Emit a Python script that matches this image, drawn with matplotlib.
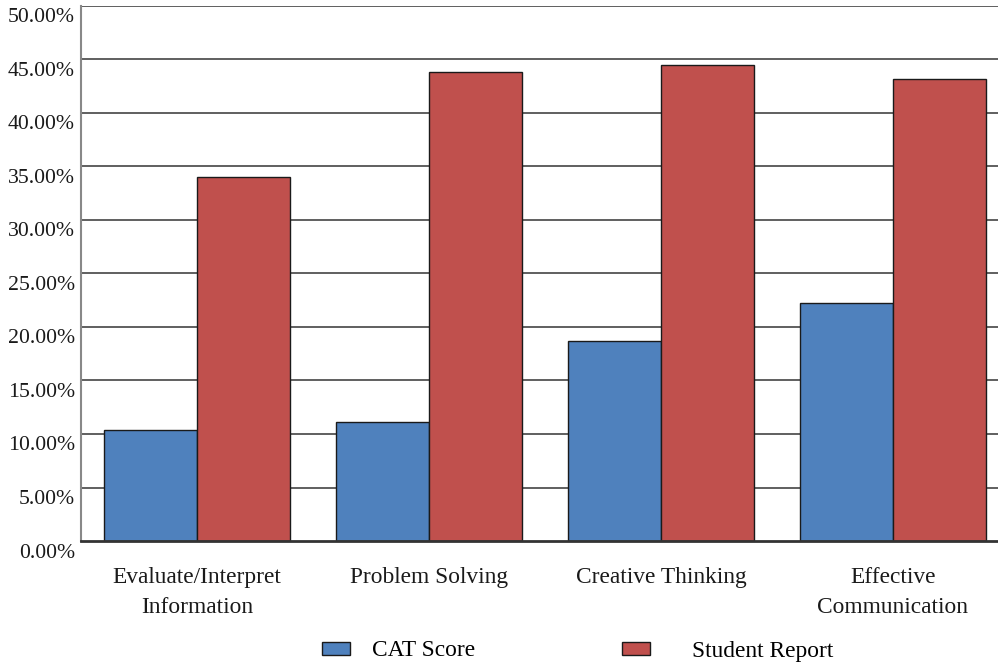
import matplotlib
matplotlib.use("Agg")
import matplotlib.pyplot as plt
import matplotlib.transforms as mtransforms
import matplotlib.patches as mpatches
import numpy as np

categories = ["Evaluate/Interpret\nInformation", "Problem Solving",
              "Creative Thinking", "Effective\nCommunication"]
cat_score = [10.4, 11.1, 18.7, 22.2]
student_report = [34.0, 43.8, 44.5, 43.2]
series_names = ["CAT Score", "Student Report"]
series_colors = ["#4F81BD", "#C0504D"]
y_ticks = [0, 5, 10, 15, 20, 25, 30, 35, 40, 45, 50]

plt.rcParams['font.family'] = ['Liberation Serif', 'DejaVu Serif']

fig = plt.figure(figsize=(9.98, 6.66), dpi=100)
ax = fig.add_axes([81 / 998, 125 / 666, 928 / 998, 535 / 666])

x = np.arange(len(categories))
w = 0.40
ax.bar(x - w / 2, cat_score, w, color=series_colors[0], edgecolor="#1a1a1a",
       linewidth=1.0, zorder=3)
ax.bar(x + w / 2, student_report, w, color=series_colors[1], edgecolor="#1a1a1a",
       linewidth=1.0, zorder=3)

ax.set_xlim(-0.5, 3.5)
ax.set_ylim(0, 50)
ax.set_yticks(y_ticks)
ax.set_yticklabels([f"{v:.2f}%" for v in y_ticks], fontsize=15.7, color="#1a1a1a")
ax.set_xticks(x)
ax.set_xticklabels(categories, fontsize=16.8, color="#1a1a1a", linespacing=1.52)
ax.tick_params(axis="both", length=0)
ax.tick_params(axis="y", pad=4.5)
ax.tick_params(axis="x", pad=19)

# y labels sit slightly below their gridlines
shift = mtransforms.ScaledTranslation(0, -9.5 / 100, fig.dpi_scale_trans)
for lbl in ax.get_yticklabels():
    lbl.set_transform(lbl.get_transform() + shift)

for v in y_ticks[1:]:
    ax.axhline(v, color="#444444", linewidth=1.2, zorder=1)

for s in ["top", "right"]:
    ax.spines[s].set_visible(False)
ax.spines["left"].set_color("#888888")
ax.spines["left"].set_linewidth(1.5)
ax.spines["bottom"].set_color("#333333")
ax.spines["bottom"].set_linewidth(2)
ax.spines["bottom"].set_zorder(4)

# legend entries placed individually
legend_x = [322 / 998, 622 / 998]
text_pads = [0.95, 1.8]
for name, color, lx, tp in zip(series_names, series_colors, legend_x, text_pads):
    h = mpatches.Patch(facecolor=color, edgecolor="#1a1a1a", linewidth=1.0)
    fig.legend([h], [name], loc="center left", bbox_to_anchor=(lx, 1 - 651 / 666),
               frameon=False, fontsize=16.8, handlelength=1.2, handleheight=0.5,
               handletextpad=tp, borderpad=0, borderaxespad=0)

fig.savefig("out.png", dpi=100)
